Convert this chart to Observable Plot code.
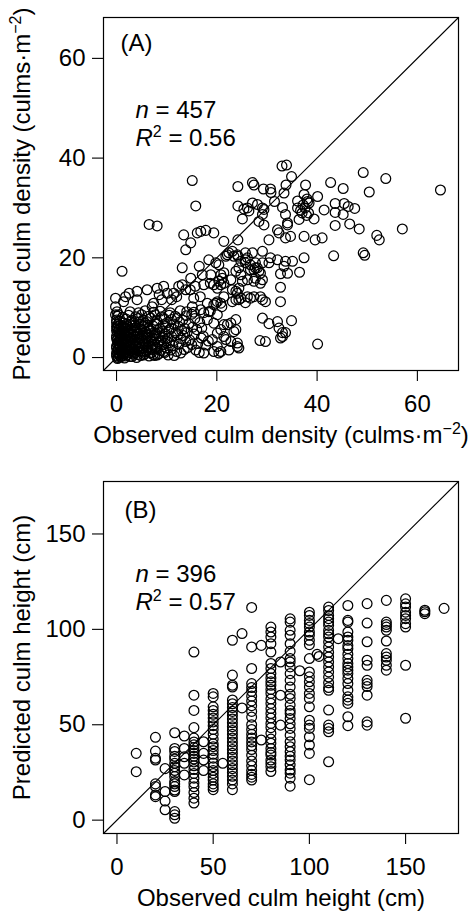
<!DOCTYPE html>
<html><head><meta charset="utf-8">
<script src="https://cdn.jsdelivr.net/npm/d3@7"></script>
<script src="https://cdn.jsdelivr.net/npm/@observablehq/plot@0.6"></script>
<style>
html,body{margin:0;padding:0;background:#fff;}
#chart{width:472px;}
#chart svg{display:block;}
</style></head><body><div id="chart"></div>
<script>
// ---------- Data ----------
const densityTicks = [0, 20, 40, 60];
const heightTicks = [0, 50, 100, 150];
const densityDomain = [-2.6, 68.2];
const heightDomain = [-7.0, 177.5];

// [observed, predicted] culm density (culms·m-2)
const densityPairs = [
  // upper group
  [15.1,35.5],[15.8,30.4],[24.2,34.3],[27.1,35.1],[27.4,34.6],[29.3,33.8],[30.7,33.8],[30.8,33.1],[33.0,38.4],[33.9,38.6],
  [34.9,36.3],[33.8,34.6],[33.4,33.0],[24.2,30.4],[26.1,30.0],[26.4,29.4],[28.1,30.7],[29.4,29.7],[29.1,28.7],[31.5,31.3],
  [33.1,30.1],[33.7,28.7],[34.1,27.0],[36.1,31.4],[36.1,30.0],[36.4,27.7],[37.7,34.6],[37.4,32.7],[38.1,31.3],[37.2,30.6],
  [36.7,29.5],[37.6,30.0],[38.3,29.0],[37.9,28.5],[40.1,32.3],[41.4,29.6],[39.4,27.8],[42.7,35.1],[45.2,33.9],[43.6,30.9],
  [43.6,29.1],[45.4,30.9],[46.2,30.3],[45.2,28.7],[47.5,29.9],[49.2,37.1],[50.4,33.2],[53.7,35.9],[64.6,33.6],[46.5,26.8],
  [48.4,25.8],[43.6,26.5],[57.0,25.8],[25.1,27.8],[28.4,27.3],[29.4,26.6],[32.1,25.6],[34.1,26.6],[29.1,30.0],[25.4,29.8],
  [6.5,26.7],[8.1,26.4],[16.1,25.0],[16.8,25.3],[17.8,25.5],[19.4,25.0],[32.4,25.0],[27.1,31.0],[38.0,31.8],[37.0,29.0],[38.4,31.0],
  // middle group
  [13.4,24.6],[14.8,23.0],[13.8,21.6],[21.4,23.3],[24.2,23.6],[23.1,21.3],[22.1,20.6],[24.1,20.6],[25.7,21.0],[26.1,20.0],
  [25.7,19.0],[27.7,19.0],[29.1,21.3],[30.7,20.0],[28.1,18.0],[28.4,17.3],[30.4,23.6],[33.7,24.0],[32.1,19.6],[33.7,19.3],
  [35.1,19.3],[33.4,18.3],[34.1,16.9],[32.7,16.8],[37.4,24.3],[39.6,23.6],[41.0,24.0],[37.4,20.0],[43.3,20.4],[49.2,21.0],
  [49.5,20.5],[36.5,17.1],[51.9,24.5],[52.4,23.6],[13.1,18.0],[16.5,18.3],[18.4,19.6],[20.4,18.6],[17.1,16.6],[18.8,16.6],
  [20.8,16.6],[24.4,18.0],[26.7,17.6],[27.7,18.0],[24.8,16.6],[14.8,15.9],[19.8,19.0],[21.4,17.0],[21.1,15.9],[20.4,15.3],
  [20.8,14.6],[19.4,14.6],[20.1,13.9],[21.4,14.9],[22.8,15.6],[23.8,17.3],[24.8,19.3],[24.2,20.3],[22.4,21.0],[21.8,20.3],
  [23.4,20.3],[27.7,15.9],[29.1,19.0],[30.4,19.0],[28.7,16.9],[27.4,17.6],[27.1,21.0],[25.7,19.6],[26.7,18.6],[28.7,14.9],
  [29.1,15.6],[27.4,15.3],[26.1,15.6],[25.1,15.3],[23.8,13.3],[24.1,12.9],[1.1,17.3],[34.7,24.3],
  // lower-middle group
  [32.7,14.1],[32.7,11.2],[29.1,11.6],[27.4,12.2],[26.7,11.9],[25.7,11.0],[24.4,11.6],[23.1,11.2],[20.8,10.9],[19.8,10.9],
  [29.7,11.2],[28.7,12.2],[13.1,14.6],[13.8,13.6],[12.0,12.2],[11.4,12.9],[15.4,11.9],[15.1,10.2],[16.8,9.6],[18.1,10.9],
  [19.4,10.6],[20.1,11.2],[21.4,12.2],[23.1,13.6],[24.4,13.9],[23.8,11.6],[24.8,11.9],[26.1,12.2],[8.1,13.9],[9.4,14.3],
  [10.1,12.9],[8.5,12.6],[-0.2,11.9],[-0.2,10.2],[-0.2,8.6],[1.8,12.2],[2.5,12.9],[4.1,11.6],[6.1,13.6],[4.1,13.3],
  [12.4,14.3],[14.7,13.6],[15.7,14.3],[17.4,14.6],[18.7,14.9],[1.4,11.2],[7.4,10.9],[7.1,10.2],[9.0,11.6],[11.0,11.6],
  [16.7,12.2],[21.0,10.2],[0.1,9.2],[0.4,8.6],
  [2.7,9.2],[4.4,9.0],[5.7,9.4],[7.4,9.1],[8.7,9.3],[10.7,9.0],[12.7,9.4],[14.0,9.2],[15.4,9.1],[17.4,9.0],[18.7,9.3],
  // lower group (right of the dense cluster)
  [29.1,7.9],[30.4,6.8],[32.1,7.2],[32.4,5.9],[33.1,5.0],[32.7,3.9],[34.9,7.4],[33.7,5.0],[33.1,4.2],[28.6,3.4],
  [29.7,3.2],[40.1,2.7],[23.8,7.6],[22.1,6.6],[20.8,5.6],[20.1,4.9],[21.4,4.2],[23.4,5.2],[22.8,3.2],[24.1,2.2],
  [22.4,1.5],[20.8,1.2],[19.1,3.6],[20.1,2.2],[21.8,3.6],[20.1,8.6],[18.4,9.2],[18.1,7.6],[19.4,6.9],[21.4,6.6],
  [22.8,6.9],[23.8,5.6],[24.1,2.9],[24.4,1.9],[20.4,0.9],[19.4,1.2],[17.4,0.9],[15.8,1.5],[8.1,0.5],[9.4,1.2],[10.8,1.5],
  // dense cluster near the origin
  [0,0.3],[0.2,-0.2],[0.5,0.6],[0.8,0.1],[1.2,0.4],[1.6,-0.1],[2.1,0.5],[2.7,0.2],[3.3,0.7],[4.0,0.0],[4.8,0.4],[5.6,0.8],[6.5,0.3],[7.3,0.6],[11.5,0.4],[12.8,0.9],
  [0.1,1.1],[0.4,0.9],[0.9,1.3],[1.4,0.8],[1.9,1.2],[2.5,1.0],[3.0,1.4],[3.7,0.9],[4.5,1.3],[5.2,1.1],[6.0,1.5],[7.0,1.0],[8.8,1.4],[12.0,1.2],[13.5,1.6],[16.5,1.0],
  [0,1.9],[0.3,1.6],[0.7,2.1],[1.1,1.7],[1.6,2.0],[2.2,1.8],[2.9,2.2],[3.5,1.7],[4.2,2.0],[5.0,1.9],[5.8,2.3],[6.8,1.8],[7.9,2.1],[9.9,1.9],[11.2,2.4],[14.2,2.0],[15.0,2.6],
  [0.2,2.7],[0.6,2.5],[1.0,2.9],[1.5,2.6],[2.0,3.0],[2.6,2.6],[3.2,2.8],[3.9,2.5],[4.6,2.9],[5.4,2.7],[6.3,3.1],[7.2,2.6],[8.4,2.9],[9.4,2.6],[10.6,3.0],[12.4,2.7],[13.8,3.2],[16.2,2.8],[17.8,2.5],
  [0.1,3.5],[0.5,3.3],[0.9,3.7],[1.3,3.4],[1.8,3.8],[2.4,3.3],[3.0,3.6],[3.7,3.4],[4.4,3.8],[5.2,3.5],[6.0,3.9],[6.9,3.4],[7.8,3.7],[8.9,3.5],[10.2,3.9],[11.5,3.4],[12.9,3.8],[14.6,3.5],[16.9,3.9],[18.3,3.3],
  [0,4.3],[0.4,4.1],[0.8,4.5],[1.2,4.2],[1.7,4.6],[2.3,4.1],[2.9,4.4],[3.6,4.2],[4.3,4.7],[5.1,4.3],[5.9,4.6],[6.7,4.1],[7.5,4.5],[8.6,4.3],[9.7,4.8],[11.0,4.2],[12.2,4.6],[13.3,4.4],[15.5,4.7],[17.3,4.3],
  [0.2,5.1],[0.6,4.9],[1.1,5.3],[1.6,5.0],[2.2,5.4],[2.8,4.9],[3.5,5.2],[4.2,5.0],[5.0,5.5],[5.8,5.1],[6.6,5.4],[7.6,5.0],[8.2,5.6],[9.1,5.2],[10.4,5.5],[11.8,5.0],[13.0,5.4],[14.1,5.1],[16.0,5.6],
  [0.1,5.9],[0.5,5.7],[1.0,6.1],[1.6,5.8],[2.3,6.2],[3.1,5.8],[3.9,6.0],[4.7,5.7],[5.5,6.2],[6.4,5.9],[7.3,6.3],[8.7,5.8],[9.8,6.2],[10.9,5.9],[12.3,6.3],[13.6,5.8],[15.2,6.1],[17.0,5.9],
  [0.3,6.7],[0.8,6.5],[1.4,6.9],[2.6,6.6],[3.4,7.0],[4.9,6.6],[5.7,6.9],[6.2,6.5],[7.9,6.8],[9.3,6.6],[10.1,7.0],[11.4,6.7],[12.6,7.1],[14.4,6.8],[16.6,7.0],
  [0.0,7.5],[0.6,7.3],[1.9,7.7],[3.0,7.4],[4.3,7.8],[5.3,7.5],[6.8,7.9],[8.0,7.4],[9.5,7.8],[11.0,7.6],[12.1,7.9],[13.2,7.5],[15.6,7.8],
  [0.2,8.3],[1.2,8.1],[2.4,8.5],[3.8,8.2],[5.0,8.6],[6.4,8.3],[7.7,8.6],[9.0,8.2],[10.5,8.5],[11.7,8.3],[13.9,8.4],[15.0,8.7],
  [0,0.8],[0,2.3],[0,3.9],[0,5.4],[0,6.2],[0,7.0],
  [0.3,0.0],[0.7,0.4],[1.0,0.9],[1.4,1.5],[1.8,0.3],[2.3,1.4],[2.6,2.1],[3.1,0.2],[3.4,1.2],[3.8,2.2],[4.2,0.6],[4.6,1.7],
  [5.0,2.4],[5.4,0.5],[5.9,1.2],[6.2,2.0],[6.7,0.9],[7.1,1.6],[7.6,0.4],[8.1,1.7],[8.5,0.8],[9.0,2.5],[9.6,1.0],[10.3,0.5],
  [0.3,3.0],[0.7,3.9],[1.1,4.7],[1.5,3.1],[2.0,4.4],[2.5,5.1],[2.8,3.9],[3.3,4.7],[3.8,5.6],[4.1,3.1],[4.8,4.0],[5.3,4.9],
  [5.7,3.2],[6.3,4.4],[6.8,5.3],[7.2,3.9],[7.9,4.8],[8.3,3.2],[9.2,4.0],[10.0,3.3],
  [0.4,6.3],[1.3,6.0],[2.0,6.7],[2.9,7.1],[3.7,6.5],[4.5,7.1],[5.2,6.4],[6.0,7.2]
];

// [observed, predicted] culm height (cm)
const heightPairs = [
  [10,35.0],[10,25.4],
  [20,43.4],[20,36.2],[20,32.4],[20,31.5],[20,19.0],[20,17.6],[20,13.2],[20,12.3],
  [25,27.0],[25,15.0],[25,10.0],[25,5.4],
  [30,45.8],[30,37.6],[30,36.0],[30,33.5],[30,32.0],[30,29.8],[30,28.0],[30,26.0],[30,24.6],[30,22.8],[30,20.2],[30,19.0],[30,17.6],[30,15.8],[30,15.0],[30,4.5],[30,2.8],[30,1.0],
  [35,44.1],[35,37.6],[35,33.2],[35,29.8],[35,23.7],
  [40,88.1],[40,65.5],[40,57.5],[40,48.5],[40,43.0],[40,41.0],[40,39.5],[40,38.0],[40,36.5],[40,35.0],[40,33.5],[40,32.0],[40,30.5],[40,28.5],[40,26.5],[40,24.5],[40,22.0],[40,19.5],[40,17.5],[40,14.5],[40,11.5],[40,9.0],
  [45,41.1],[45,35.0],[45,31.5],[45,26.0],
  [50,66.4],[50,64.6],[50,59.4],[50,57.5],[50,55.5],[50,53.5],[50,51.5],[50,49.5],[50,47.5],[50,45.0],[50,42.5],[50,40.0],[50,38.5],[50,36.5],[50,34.5],[50,32.5],[50,30.0],[50,28.0],[50,26.0],[50,24.5],[50,22.5],[50,21.0],[50,19.0],[50,17.5],[50,16.0],
  [55,29.8],
  [60,94.3],[60,76.0],[60,70.7],[60,69.8],[60,63.0],[60,61.0],[60,59.0],[60,57.0],[60,55.0],[60,53.0],[60,51.0],[60,49.0],[60,47.0],[60,45.0],[60,43.0],[60,41.0],[60,39.0],[60,37.0],[60,35.0],[60,33.0],[60,31.0],[60,29.0],[60,27.0],[60,25.0],[60,23.0],[60,21.0],[60,19.0],[60,16.0],
  [65,97.8],[65,58.8],
  [70,111.5],[70,90.8],[70,79.5],[70,71.6],[70,69.5],[70,67.5],[70,65.0],[70,62.5],[70,60.0],[70,57.0],[70,54.0],[70,50.0],[70,47.5],[70,45.0],[70,43.0],[70,41.0],[70,39.0],[70,37.0],[70,34.0],[70,31.0],[70,28.5],[70,26.0],[70,24.0],[70,22.5],[70,21.0],
  [75,91.6],[75,42.0],
  [80,101.2],[80,98.6],[80,96.0],[80,92.5],[80,88.1],[80,82.1],[80,79.5],[80,76.8],[80,74.5],[80,72.5],[80,70.7],[80,68.5],[80,66.4],[80,63.5],[80,61.2],[80,58.5],[80,55.9],[80,53.5],[80,50.7],[80,48.5],[80,45.5],[80,42.5],[80,40.3],[80,37.6],[80,35.5],[80,34.1],[80,31.5],[80,29.8],[80,28.0],[80,25.5],
  [85,82.9],[85,65.5],[85,49.8],
  [90,105.5],[90,103.8],[90,99.5],[90,96.9],[90,92.5],[90,88.5],[90,84.7],[90,82.9],[90,80.3],[90,76.8],[90,73.3],[90,69.8],[90,66.0],[90,63.8],[90,60.3],[90,57.5],[90,55.9],[90,53.3],[90,50.5],[90,48.1],[90,44.5],[90,41.1],[90,38.5],[90,35.9],[90,33.5],[90,31.5],[90,29.0],[90,26.3],[90,24.6],[90,22.0],[90,17.8],
  [95,78.3],
  [100,109.0],[100,107.3],[100,104.7],[100,103.0],[100,101.2],[100,98.6],[100,96.9],[100,94.3],[100,92.0],[100,84.7],[100,77.7],[100,75.1],[100,72.5],[100,69.8],[100,66.4],[100,63.8],[100,59.4],[100,52.4],[100,49.8],[100,48.1],[100,43.7],[100,39.4],[100,35.0],[100,21.2],
  [104,86.9],[105,85.8],
  [110,111.7],[110,109.9],[110,107.3],[110,105.6],[110,103.8],[110,102.1],[110,99.5],[110,97.7],[110,96.0],[110,93.4],[110,90.8],[110,88.0],[110,85.5],[110,82.9],[110,80.3],[110,77.7],[110,75.0],[110,72.0],[110,69.5],[110,68.1],[110,57.7],[110,49.8],[110,48.1],[110,46.3],[110,30.6],
  [115,95.1],
  [120,112.5],[120,104.7],[120,103.8],[120,98.6],[120,96.0],[120,94.3],[120,91.5],[120,89.9],[120,87.0],[120,84.7],[120,82.1],[120,80.3],[120,78.6],[120,76.8],[120,74.2],[120,71.6],[120,68.1],[120,64.6],[120,62.9],[120,61.2],[120,54.2],[120,49.5],
  [130,113.5],[130,103.3],[130,93.5],[130,83.8],[130,81.2],[130,73.3],[130,71.6],[130,70.0],[130,65.5],[130,51.5],[130,49.8],
  [140,115.2],[140,103.8],[140,102.5],[140,101.2],[140,99.5],[140,93.9],[140,87.3],[140,85.5],[140,83.8],[140,81.2],[140,78.6],
  [150,116.0],[150,113.4],[150,111.7],[150,109.0],[150,107.3],[150,105.6],[150,103.0],[150,101.2],[150,81.2],[150,53.4],
  [160,110.0],[160,109.2],[160,108.2],
  [170,111.0]
];

const panelA = {tag: "(A)", n: "n = 457", r2: "R2 = 0.56",
  xTitle: "Observed culm density (culms·m-2)", yTitle: "Predicted culm density (culms·m-2)"};
const panelB = {tag: "(B)", n: "n = 396", r2: "R2 = 0.57",
  xTitle: "Observed culm height (cm)", yTitle: "Predicted culm height (cm)"};

// ---------- Drawing ----------
const FONT = "'Liberation Sans', Arial, Helvetica, sans-serif";
const FS = 24;

function panel(data, domain, ticks, info, height, marginTop, marginBottom) {
  const txt = {fontSize: FS, fill: "black", lineAnchor: "middle"};
  return Plot.plot({
    width: 472, height, marginLeft: 103, marginRight: 14, marginTop, marginBottom,
    style: {fontFamily: FONT, fontSize: FS + "px", color: "black", background: "white"},
    x: {domain}, y: {domain},
    marks: [
      Plot.line(domain, {x: d => d, y: d => d, stroke: "black", strokeWidth: 1.1}),
      Plot.dot(data, {x: d => d[0], y: d => d[1], r: 4.9, stroke: "black", strokeWidth: 1.25, fill: "none"}),
      Plot.frame({stroke: "black", strokeWidth: 1.2}),
      Plot.axisX({ticks, tickSize: 11, tickPadding: 13, fontSize: FS, label: null, strokeWidth: 1.1}),
      Plot.axisY({ticks, tickSize: 11, tickPadding: 7, fontSize: FS, label: null, strokeWidth: 1.1}),
      Plot.text([info.yTitle], {...txt, frameAnchor: "left", textAnchor: "middle", dx: -81, rotate: -90}),
      Plot.text([info.xTitle], {...txt, frameAnchor: "bottom", textAnchor: "middle", dy: 65}),
      Plot.text([info.tag], {...txt, frameAnchor: "top-left", textAnchor: "start", dx: info.tagDx, dy: info.tagDy}),
      Plot.text([info.n], {...txt, frameAnchor: "top-left", textAnchor: "start", dx: 32, dy: 92.5}),
      Plot.text([info.r2], {...txt, frameAnchor: "top-left", textAnchor: "start", dx: 32, dy: 121})
    ]
  });
}

function rich(svg, plain, parts) {
  d3.select(svg).selectAll("text").filter(function() { return this.textContent === plain; }).each(function() {
    const t = d3.select(this);
    t.selectAll("*").remove();
    t.text(null);
    let shift = 0;
    for (const p of parts) {
      const ts = t.append("tspan").text(p.t);
      if (p.italic) ts.attr("font-style", "italic");
      if (p.sup) { ts.attr("font-size", "16px").attr("dy", -9); shift = 9; }
      else if (shift) { ts.attr("dy", shift); shift = 0; }
    }
  });
}

function decorate(svg, info, r2val, n) {
  rich(svg, info.n, [{t: "n", italic: true}, {t: " = " + n}]);
  rich(svg, info.r2, [{t: "R", italic: true}, {t: "2", sup: true}, {t: " = " + r2val}]);
  for (const title of [info.xTitle, info.yTitle]) {
    if (title.endsWith("m-2)")) {
      rich(svg, title, [{t: title.slice(0, -4) + "m"}, {t: "\u22122", sup: true}, {t: ")"}]);
    }
  }
}

panelA.tagDx = 17; panelA.tagDy = 25.5;
panelB.tagDx = 21; panelB.tagDy = 29;

const svgA = panel(densityPairs, densityDomain, densityTicks, panelA, 455, 17, 85);
decorate(svgA, panelA, "0.56", "457");
const svgB = panel(heightPairs, heightDomain, heightTicks, panelB, 456, 26, 78);
decorate(svgB, panelB, "0.57", "396");

const root = document.getElementById("chart");
root.appendChild(svgA);
root.appendChild(svgB);
</script>
</body></html>
